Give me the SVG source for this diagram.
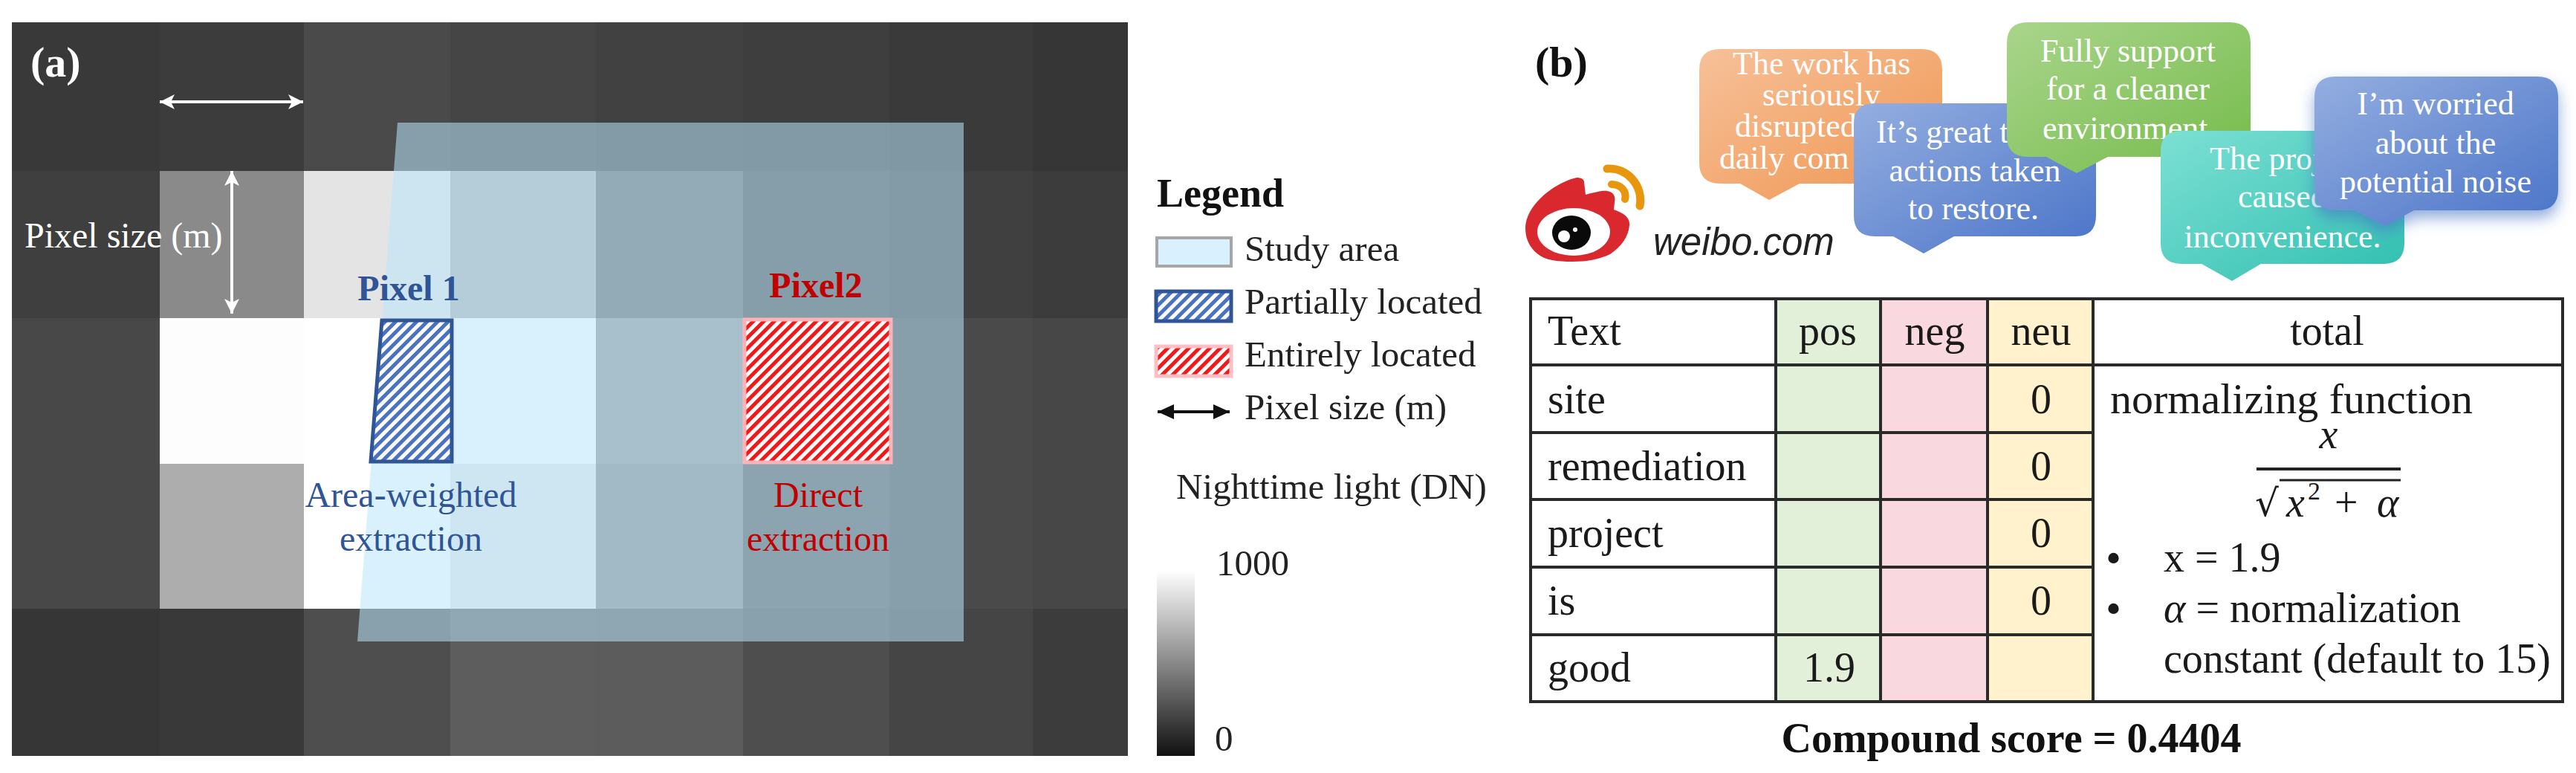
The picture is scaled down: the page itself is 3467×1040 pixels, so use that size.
<svg xmlns="http://www.w3.org/2000/svg" width="3467" height="1040" viewBox="0 0 3467 1040">
<defs>
<style>
text{font-family:"Liberation Serif","Times New Roman",serif;}
.t48{font-size:48px}.w{fill:#fff}.c{text-anchor:middle}
.blue{fill:#2f5597}.red{fill:#c00000}.b{font-weight:bold}
.bub{font-size:44px;fill:#fff}
.leg{font-size:49px;fill:#222}
.tb{font-size:56px;fill:#1a1a1a}
.ln{stroke:#2a2a2a;stroke-width:4;fill:none}
.arW{stroke:#fff;stroke-width:4;fill:none;marker-start:url(#awS);marker-end:url(#awE)}
</style>
<marker id="awE" markerUnits="userSpaceOnUse" markerWidth="24" markerHeight="24" refX="20" refY="10" orient="auto"><path d="M0,0L20,10L0,20L5,10Z" fill="#fff"/></marker>
<marker id="awS" markerUnits="userSpaceOnUse" markerWidth="24" markerHeight="24" refX="0" refY="10" orient="auto"><path d="M20,0L0,10L20,20L15,10Z" fill="#fff"/></marker>
<marker id="akE" markerUnits="userSpaceOnUse" markerWidth="24" markerHeight="24" refX="22" refY="10" orient="auto"><path d="M0,0L22,10L0,20Z" fill="#111"/></marker>
<marker id="akS" markerUnits="userSpaceOnUse" markerWidth="24" markerHeight="24" refX="0" refY="10" orient="auto"><path d="M22,0L0,10L22,20Z" fill="#111"/></marker>
<pattern id="hB" width="10" height="10" patternUnits="userSpaceOnUse" patternTransform="rotate(45)"><rect width="10" height="10" fill="#fff"/><rect width="5" height="10" fill="#4a72c0"/></pattern>
<pattern id="hR" width="10" height="10" patternUnits="userSpaceOnUse" patternTransform="rotate(45)"><rect width="10" height="10" fill="#fff"/><rect width="5" height="10" fill="#f01818"/></pattern>
<linearGradient id="gO" x1="0" y1="0" x2="1" y2="1"><stop offset="0" stop-color="#f7c19a"/><stop offset="1" stop-color="#ef954f"/></linearGradient>
<linearGradient id="gB" x1="0" y1="0" x2="1" y2="1"><stop offset="0" stop-color="#94aee0"/><stop offset="1" stop-color="#4a74c8"/></linearGradient>
<linearGradient id="gG" x1="0" y1="0" x2="1" y2="1"><stop offset="0" stop-color="#aad58c"/><stop offset="1" stop-color="#74bb4a"/></linearGradient>
<linearGradient id="gT" x1="0" y1="0" x2="1" y2="1"><stop offset="0" stop-color="#7de0d4"/><stop offset="1" stop-color="#2fbfb0"/></linearGradient>
<linearGradient id="gBar" x1="0" y1="0" x2="0" y2="1"><stop offset="0" stop-color="#fff"/><stop offset="1" stop-color="#111"/></linearGradient>
<filter id="sh" x="-20%" y="-20%" width="140%" height="140%"><feDropShadow dx="0" dy="10" stdDeviation="10" flood-color="#4472c4" flood-opacity=".6"/></filter>
</defs>
<rect width="3467" height="1040" fill="#fff"/>

<g id="panel-a">
<g id="raster" shape-rendering="crispEdges">
<rect x="16" y="30" width="199" height="200" fill="#393939"/><rect x="215" y="30" width="194" height="200" fill="#3c3c3c"/><rect x="409" y="30" width="197" height="200" fill="#4a4a4a"/><rect x="606" y="30" width="196" height="200" fill="#454545"/><rect x="802" y="30" width="198" height="200" fill="#414141"/><rect x="1000" y="30" width="197" height="200" fill="#3e3e3e"/><rect x="1197" y="30" width="193" height="200" fill="#3a3a3a"/><rect x="1390" y="30" width="128" height="200" fill="#363636"/>
<rect x="16" y="230" width="199" height="198" fill="#3f3f3f"/><rect x="215" y="230" width="194" height="198" fill="#8a8a8a"/><rect x="409" y="230" width="197" height="198" fill="#e4e4e4"/><rect x="606" y="230" width="196" height="198" fill="#afafaf"/><rect x="802" y="230" width="198" height="198" fill="#646464"/><rect x="1000" y="230" width="197" height="198" fill="#484848"/><rect x="1197" y="230" width="193" height="198" fill="#404040"/><rect x="1390" y="230" width="128" height="198" fill="#3c3c3c"/>
<rect x="16" y="428" width="199" height="196" fill="#484848"/><rect x="215" y="428" width="194" height="196" fill="#fdfdfd"/><rect x="409" y="428" width="197" height="196" fill="#fff"/><rect x="606" y="428" width="196" height="196" fill="#fff"/><rect x="802" y="428" width="198" height="196" fill="#939393"/><rect x="1000" y="428" width="197" height="196" fill="#545454"/><rect x="1197" y="428" width="193" height="196" fill="#4a4a4a"/><rect x="1390" y="428" width="128" height="196" fill="#474747"/>
<rect x="16" y="624" width="199" height="195" fill="#484848"/><rect x="215" y="624" width="194" height="195" fill="#adadad"/><rect x="409" y="624" width="197" height="195" fill="#fff"/><rect x="606" y="624" width="196" height="195" fill="#e7e7e7"/><rect x="802" y="624" width="198" height="195" fill="#858585"/><rect x="1000" y="624" width="197" height="195" fill="#545454"/><rect x="1197" y="624" width="193" height="195" fill="#4a4a4a"/><rect x="1390" y="624" width="128" height="195" fill="#474747"/>
<rect x="16" y="819" width="199" height="198" fill="#363636"/><rect x="215" y="819" width="194" height="198" fill="#393939"/><rect x="409" y="819" width="197" height="198" fill="#4e4e4e"/><rect x="606" y="819" width="196" height="198" fill="#5d5d5d"/><rect x="802" y="819" width="198" height="198" fill="#5c5c5c"/><rect x="1000" y="819" width="197" height="198" fill="#4e4e4e"/><rect x="1197" y="819" width="193" height="198" fill="#454545"/><rect x="1390" y="819" width="128" height="198" fill="#3c3c3c"/>
</g>
<polygon id="study-area" points="535,165 1297,165 1297,863 481,863" fill="#b9e5fa" fill-opacity=".55"/>
<g id="pixel-1"><polygon points="514,431 608,431 608,621 499,621" fill="url(#hB)" stroke="#2f5597" stroke-width="5"/>
<text x="550" y="404" class="t48 blue b c">Pixel 1</text>
<text x="553" y="682" class="t48 blue c">Area-weighted</text><text x="553" y="741" class="t48 blue c">extraction</text></g>
<g id="pixel-2"><rect x="1002" y="430" width="197" height="192" fill="url(#hR)" stroke="#ffb3b8" stroke-width="5"/>
<text x="1098" y="400" class="t48 red b c">Pixel2</text>
<text x="1101" y="682" class="t48 red c">Direct</text><text x="1101" y="741" class="t48 red c">extraction</text></g>
<g id="connectors-a"><line x1="215" y1="137" x2="408" y2="137" class="arW"/><line x1="312" y1="230" x2="312" y2="422" class="arW"/></g>
<text x="41" y="103" font-size="58" font-weight="bold" class="w">(a)</text>
<text x="33" y="333" class="t48 w">Pixel size (m)</text>
</g>

<g id="legend">
<text x="1557" y="278" font-size="54" font-weight="bold" fill="#111">Legend</text>
<g id="leg-study"><rect x="1557" y="320" width="100" height="38" fill="#d9f1ff" stroke="#a6a6a6" stroke-width="4"/><text x="1675" y="351" class="leg">Study area</text></g>
<g id="leg-partial"><rect x="1556" y="392" width="101" height="40" fill="url(#hB)" stroke="#2f5597" stroke-width="5"/><text x="1675" y="422" class="leg">Partially located</text></g>
<g id="leg-entire"><rect x="1556" y="466" width="101" height="40" fill="url(#hR)" stroke="#ffc0c5" stroke-width="5"/><text x="1675" y="493" class="leg">Entirely located</text></g>
<g id="leg-arrow"><line x1="1558" y1="554" x2="1655" y2="554" stroke="#111" stroke-width="4" marker-start="url(#akS)" marker-end="url(#akE)"/><text x="1675" y="564" class="leg">Pixel size (m)</text></g>
<text x="1583" y="671" class="leg" textLength="418" lengthAdjust="spacingAndGlyphs">Nighttime light (DN)</text>
<g id="colorbar"><rect x="1557" y="768" width="51" height="249" fill="url(#gBar)"/><text x="1637" y="774" class="leg">1000</text><text x="1635" y="1010" class="leg">0</text></g>
</g>

<g id="panel-b">
<text x="2066" y="103" font-size="58" font-weight="bold" fill="#111">(b)</text>
<g id="weibo-logo">
<path d="M2122,239C2128,239 2132,241 2132,245L2134,262C2148,258 2158,256 2163,257C2171,258 2175,264 2173,272L2172,282C2186,287 2194,293 2193,303C2192,318 2182,332 2167,342C2152,349 2135,352 2117,352C2095,352 2080,350 2070,342C2058,333 2053,320 2053,307C2053,292 2062,278 2073,267C2088,252 2108,242 2122,239Z" fill="#d9282e"/>
<ellipse cx="2118" cy="312" rx="49" ry="32" fill="#fff"/>
<ellipse cx="2115" cy="313" rx="26" ry="23" fill="#0a0a0a"/>
<circle cx="2105" cy="318" r="8" fill="#fff"/><circle cx="2120" cy="309" r="3" fill="#fff"/>
<path d="M2163,227C2190,225 2212,250 2207,277" fill="none" stroke="#e8960e" stroke-width="11" stroke-linecap="round"/>
<path d="M2169,248C2180,248 2190,256 2187,268" fill="none" stroke="#e8960e" stroke-width="10" stroke-linecap="round"/>
<text x="2225" y="343" font-size="51" font-style="italic" style="font-family:'Liberation Sans',Arial,sans-serif" fill="#222">weibo.com</text>
</g>
<g id="bubble-orange"><path d="M2315,66H2586Q2614,66 2614,94V219Q2614,247 2586,247H2422L2381,269L2342,247H2315Q2287,247 2287,219V94Q2287,66 2315,66Z" fill="url(#gO)"/>
<text x="2332" y="100" class="bub">The work has</text><text x="2372" y="142" class="bub">seriously</text><text x="2335" y="184" class="bub">disrupted</text><text x="2314" y="227" class="bub">daily com</text></g>
<g id="bubble-blue1"><path d="M2523,139H2793Q2821,139 2821,167V290Q2821,318 2793,318H2630L2589,341L2548,318H2523Q2495,318 2495,290V167Q2495,139 2523,139Z" fill="url(#gB)"/>
<text x="2525" y="192" class="bub">It’s great t</text><text x="2658" y="244" class="bub c">actions taken</text><text x="2656" y="295" class="bub c">to restore.</text></g>
<g id="bubble-green"><path d="M2729,30H3001Q3029,30 3029,58V183Q3029,211 3001,211H2837L2795,233L2754,211H2729Q2701,211 2701,183V58Q2701,30 2729,30Z" fill="url(#gG)"/>
<text x="2864" y="83" class="bub c">Fully support</text><text x="2864" y="134" class="bub c">for a cleaner</text><text x="2749" y="187" class="bub">environment</text></g>
<g id="bubble-teal"><path d="M2936,176H3208Q3236,176 3236,204V327Q3236,355 3208,355H3043L3004,378L2963,355H2936Q2908,355 2908,327V204Q2908,176 2936,176Z" fill="url(#gT)"/>
<text x="2974" y="228" class="bub">The proj</text><text x="3012" y="279" class="bub">caused</text><text x="3072" y="333" class="bub c">inconvenience.</text></g>
<g id="bubble-blue2"><path d="M3143,103H3415Q3443,103 3443,131V255Q3443,283 3415,283H3249L3210,304L3169,283H3143Q3115,283 3115,255V131Q3115,103 3143,103Z" fill="url(#gB)" filter="url(#sh)"/>
<text x="3278" y="154" class="bub c">I’m worried</text><text x="3278" y="207" class="bub c">about the</text><text x="3278" y="259" class="bub c">potential noise</text></g>

<g id="table">
<rect x="2390" y="402" width="141" height="542" fill="#e2f0d9"/>
<rect x="2531" y="402" width="144" height="542" fill="#f9d8df"/>
<rect x="2675" y="402" width="142" height="542" fill="#fff2cc"/>
<g id="grid">
<rect x="2060" y="402" width="1389" height="542" class="ln"/>
<path class="ln" d="M2390,402V944M2531,402V944M2675,402V944M2817,402V944M2060,491H3449M2060,582H2817M2060,672H2817M2060,763H2817M2060,854H2817"/>
</g>
<text x="2083" y="464" class="tb">Text</text><text x="2460" y="464" class="tb c">pos</text><text x="2604" y="464" class="tb c">neg</text><text x="2747" y="464" class="tb c">neu</text><text x="3132" y="464" class="tb c">total</text>
<text x="2083" y="556" class="tb">site</text><text x="2083" y="646" class="tb">remediation</text><text x="2083" y="736" class="tb">project</text><text x="2083" y="827" class="tb">is</text><text x="2083" y="917" class="tb">good</text>
<text x="2747" y="556" class="tb c">0</text><text x="2747" y="646" class="tb c">0</text><text x="2747" y="736" class="tb c">0</text><text x="2747" y="827" class="tb c">0</text><text x="2462" y="917" class="tb c">1.9</text>
<g id="formula">
<text x="2840" y="556" font-size="58" fill="#1a1a1a">normalizing function</text>
<text x="3134" y="603" class="tb c" font-style="italic">x</text>
<line x1="3037" y1="631" x2="3231" y2="631" stroke="#222" stroke-width="4"/>
<line x1="3068" y1="646" x2="3231" y2="646" stroke="#222" stroke-width="3"/>
<text x="3035" y="694" style="font-family:'DejaVu Serif',serif" font-size="50" fill="#1a1a1a">√</text>
<text x="3077" y="695" class="tb" font-style="italic">x</text>
<text x="3106" y="672" font-size="34" fill="#1a1a1a">2</text>
<text x="3142" y="695" class="tb">+</text>
<text x="3199" y="695" class="tb" font-style="italic">α</text>
<text x="2834" y="771" font-size="60" fill="#1a1a1a">•</text><text x="2912" y="769" class="tb">x = 1.9</text>
<text x="2834" y="839" font-size="60" fill="#1a1a1a">•</text><text x="2912" y="837" class="tb"><tspan font-style="italic">α</tspan> = normalization</text>
<text x="2912" y="905" class="tb">constant (default to 15)</text>
</g>
</g>
<text x="2707" y="1012" font-size="56" font-weight="bold" class="c" fill="#111">Compound score = 0.4404</text>
</g>
</svg>
